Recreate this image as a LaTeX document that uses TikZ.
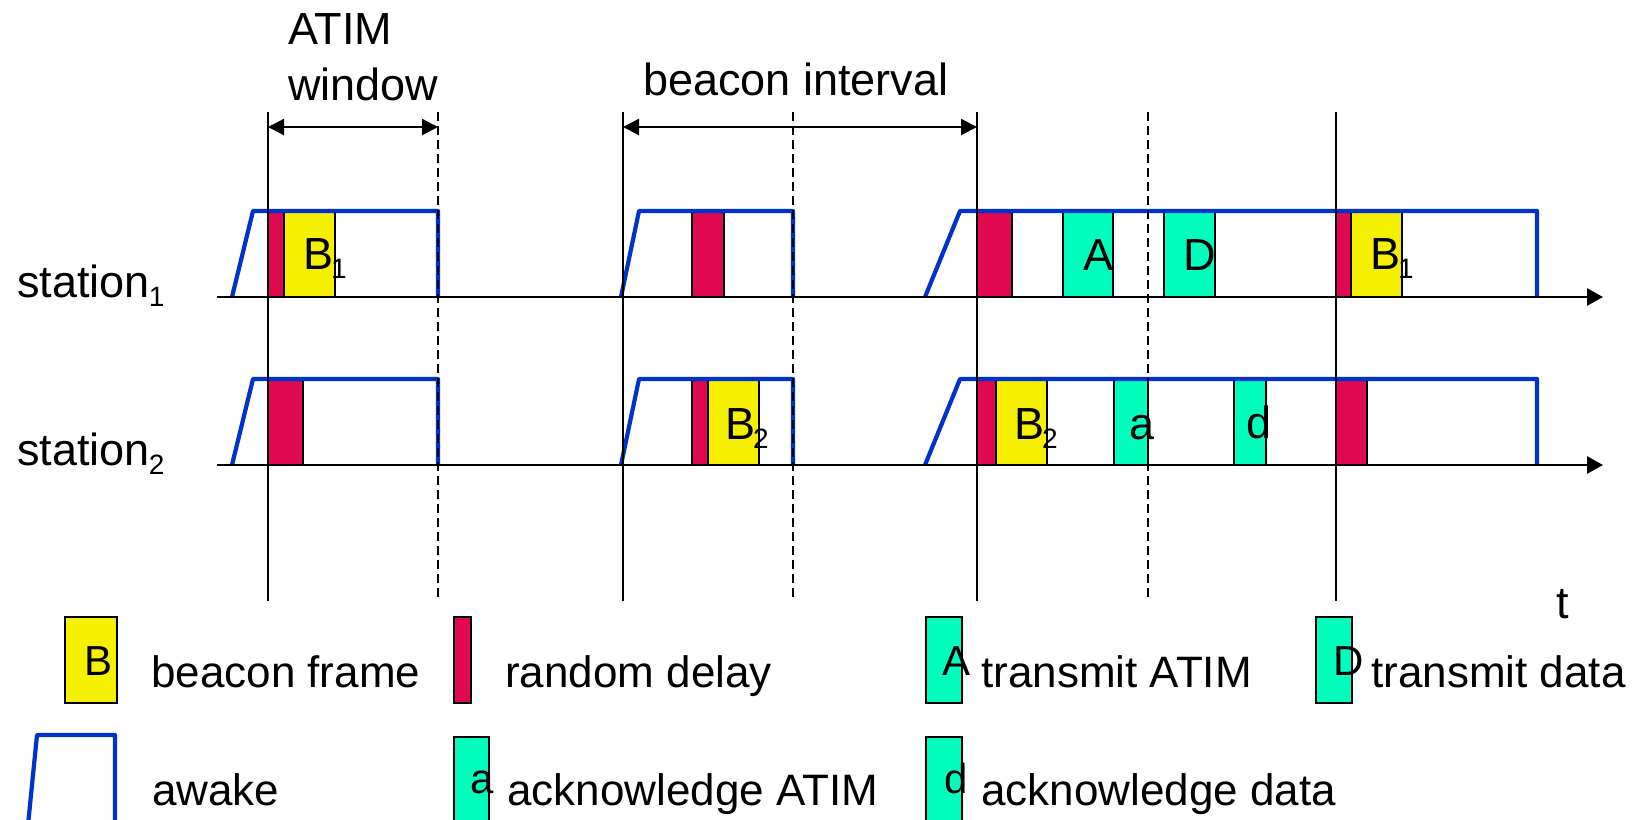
\documentclass[tikz,border=0pt]{standalone}
\usepackage{fontspec}
\setmainfont{Liberation Sans}
\usetikzlibrary{arrows.meta}
\definecolor{bcnyellow}{RGB}{245,240,0}
\definecolor{rndred}{RGB}{224,8,80}
\definecolor{msgaqua}{RGB}{0,255,190}
\definecolor{awakeblue}{RGB}{0,51,204}
\newcommand{\subsc}[1]{\raisebox{-9pt}{\fontsize{28}{30}\selectfont #1}}
\begin{document}
\begin{tikzpicture}[x=1pt,y=-1pt,
  lbl/.style={inner sep=0pt, anchor=base west, font=\fontsize{45}{54}\selectfont},
  leg/.style={inner sep=0pt, anchor=base west, font=\fontsize{44}{53}\selectfont},
  boxlet/.style={inner sep=0pt, anchor=base west, font=\fontsize{42}{50}\selectfont},
  boxframe/.style={draw=black, line width=2pt},
  bcn/.style={boxframe, fill=bcnyellow},
  rnd/.style={boxframe, fill=rndred},
  msg/.style={boxframe, fill=msgaqua},
  awake/.style={draw=awakeblue, line width=4.2pt, line join=round},
  vsolid/.style={line width=2.3pt},
  vdash/.style={line width=2.5pt, dash pattern=on 9pt off 5pt},
  axisline/.style={line width=2.8pt, -{Triangle[length=16pt,width=17pt]}},
  dimarrow/.style={line width=2.3pt, {Triangle[length=16pt,width=16pt]}-{Triangle[length=16pt,width=16pt]}}
]
\clip (0,0) rectangle (1637,819);
\fill[white] (0,0) rectangle (1637,819);

% ---------- station 1 frames ----------
\draw[rnd] (268,211) rectangle (284,297);
\draw[bcn] (284,211) rectangle (335,297);
\draw[rnd] (692,211) rectangle (724,297);
\draw[rnd] (977,211) rectangle (1012,297);
\draw[msg] (1063,211) rectangle (1113,297);
\draw[msg] (1164,212) rectangle (1215,297);
\draw[rnd] (1336,211) rectangle (1351,297);
\draw[bcn] (1351,211) rectangle (1402,297);

% ---------- station 2 frames ----------
\draw[rnd] (268,379) rectangle (303,465);
\draw[rnd] (692,379) rectangle (708,465);
\draw[bcn] (708,379) rectangle (759,465);
\draw[rnd] (977,379) rectangle (996,465);
\draw[bcn] (996,379) rectangle (1047,465);
\draw[msg] (1114,379) rectangle (1148,465);
\draw[msg] (1234,380) rectangle (1266,465);
\draw[rnd] (1336,379) rectangle (1367,465);

% ---------- awake periods ----------
\draw[awake] (232,297) -- (253,211) -- (438,211) -- (438,297);
\draw[awake] (621,297) -- (639,211) -- (793,211) -- (793,297);
\draw[awake] (925,297) -- (960,211) -- (1537,211) -- (1537,297);
\draw[awake] (232,465) -- (253,379) -- (438,379) -- (438,465);
\draw[awake] (621,465) -- (639,379) -- (793,379) -- (793,465);
\draw[awake] (925,465) -- (960,379) -- (1537,379) -- (1537,465);

% ---------- frame letters ----------
\node[lbl] (b1a) at (303,269) {B\kern-2pt\subsc{1}};
\node[lbl] (b1b) at (1370,269) {B\kern-2pt\subsc{1}};
\node[lbl] (b2a) at (725,439) {B\kern-2pt\subsc{2}};
\node[lbl] (b2b) at (1014,439) {B\kern-2pt\subsc{2}};
\node[lbl] (fa) at (1083,270) {A};
\node[lbl] (fd) at (1183,270) {D};
\node[lbl] (fack) at (1129,439) {a};
\node[lbl] (fdack) at (1246,438) {d};

% ---------- vertical time marks ----------
\foreach \x/\n in {268/a,623/b,977/c,1336/d} {
  \coordinate (top\n) at (\x,112);
  \coordinate (bot\n) at (\x,601);
  \draw[vsolid] (top\n) -- (bot\n);
}
\foreach \x/\n in {438/a,793/b,1148/c} {
  \coordinate (dtop\n) at (\x,112);
  \coordinate (dbot\n) at (\x,601);
  \draw[vdash] (dtop\n) -- (dbot\n);
}

% ---------- time axes ----------
\coordinate (ax1s) at (217,297);
\coordinate (ax1e) at (1603,297);
\coordinate (ax2s) at (217,465);
\coordinate (ax2e) at (1603,465);
\draw[axisline] (ax1s) -- (ax1e);
\draw[axisline] (ax2s) -- (ax2e);

% ---------- dimension arrows ----------
\coordinate (atimL) at (268,127);
\coordinate (atimR) at (438,127);
\coordinate (bcnL) at (623,127);
\coordinate (bcnR) at (977,127);
\draw[dimarrow] (atimL) -- (atimR);
\draw[dimarrow] (bcnL) -- (bcnR);

% ---------- labels ----------
\node[lbl] (atim1) at (288,44) {ATIM};
\node[lbl] (atim2) at (288,100) {window};
\node[lbl] (bint) at (643,95) {beacon interval};
\node[lbl] (st1) at (17,297) {station\kern-1pt\subsc{1}};
\node[lbl] (st2) at (17,465) {station\kern-1pt\subsc{2}};
\node[lbl] (tlab) at (1556,618) {t};

% ---------- legend ----------
\draw[bcn] (65,617) rectangle (117,703);
\node[boxlet] (lgB) at (84,675) {B};
\node[leg] (lgBt) at (151,687) {beacon frame};
\draw[rnd] (454,617) rectangle (471,703);
\node[leg] (lgRt) at (505,687) {random delay};
\draw[msg] (926,617) rectangle (962,703);
\node[boxlet] (lgA) at (942,675) {A};
\node[leg] (lgAt) at (981,687) {transmit ATIM};
\draw[msg] (1316,617) rectangle (1352,703);
\node[boxlet] (lgD) at (1333,675) {D};
\node[leg] (lgDt) at (1371,687) {transmit data};

\draw[awake] (28,825) -- (37,735) -- (115,735) -- (115,825);
\node[leg] (lgWt) at (152,805) {awake};
\draw[msg] (454,737) rectangle (489,830);
\node[boxlet] (lga) at (470,793) {a};
\node[leg] (lgat) at (507,805) {acknowledge ATIM};
\draw[msg] (926,737) rectangle (962,830);
\node[boxlet] (lgd) at (944,793) {d};
\node[leg] (lgdt) at (981,805) {acknowledge data};
\end{tikzpicture}
\end{document}
